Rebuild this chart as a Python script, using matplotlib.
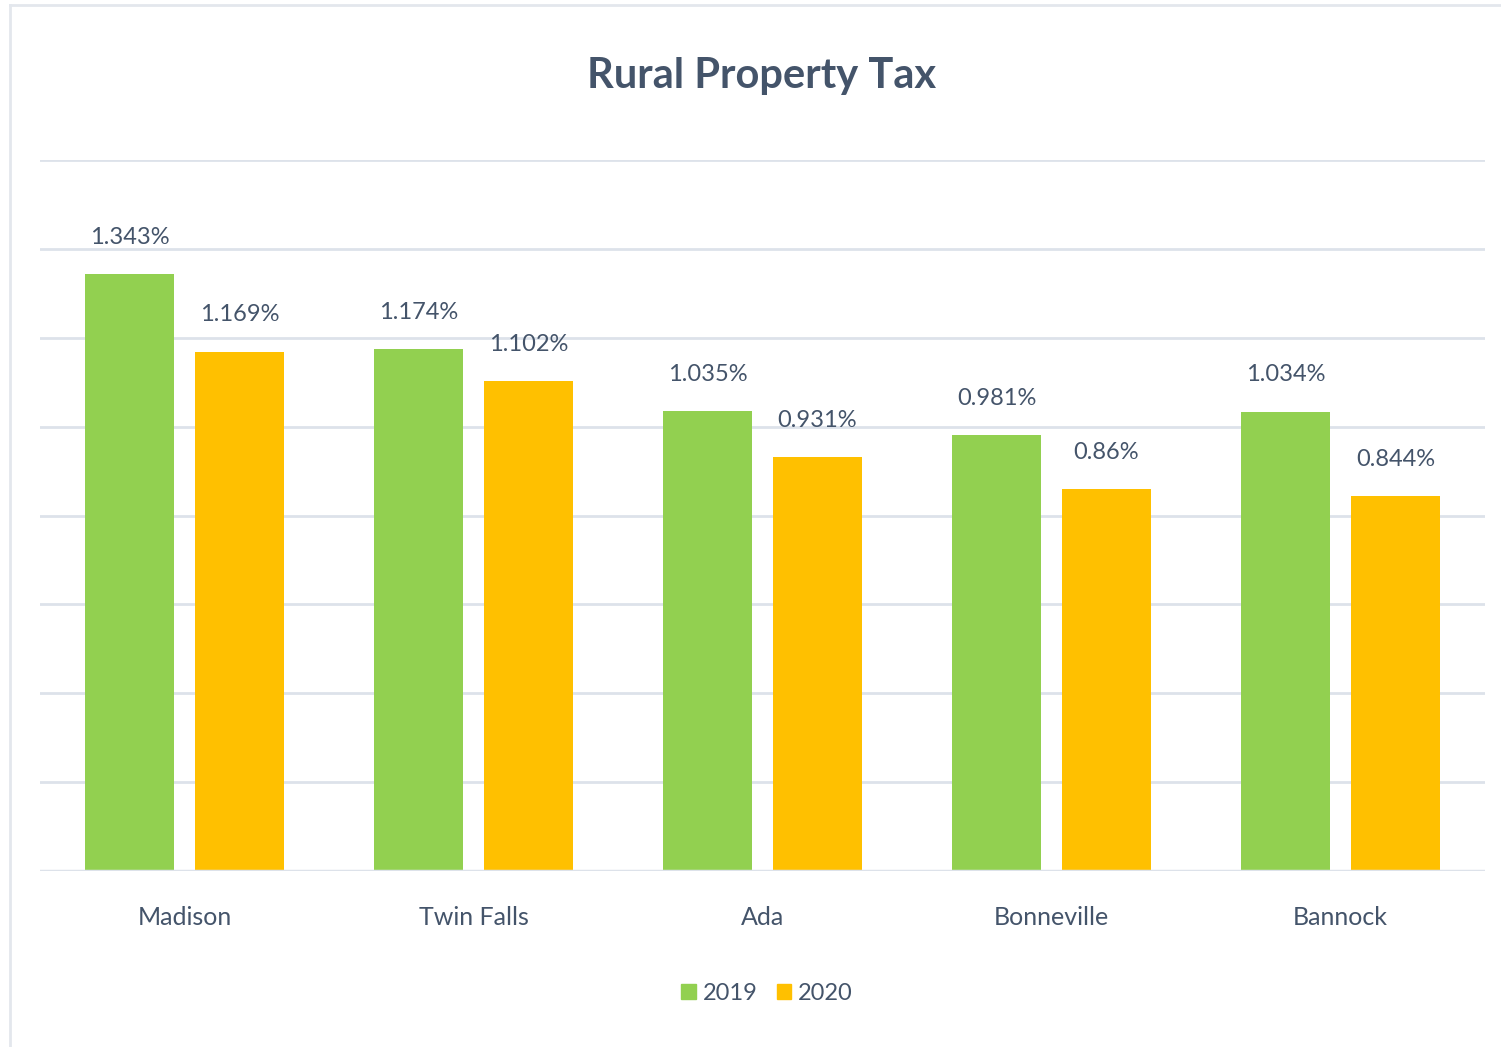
import numpy as np
import matplotlib
matplotlib.use('Agg')
import matplotlib.pyplot as plt
from matplotlib.lines import Line2D
from matplotlib.patches import Patch

counties = ['Madison', 'Twin Falls', 'Ada', 'Bonneville', 'Bannock']
tax_2019 = [1.343, 1.174, 1.035, 0.981, 1.034]
tax_2020 = [1.169, 1.102, 0.931, 0.86, 0.844]
label_2019 = ['1.343%', '1.174%', '1.035%', '0.981%', '1.034%']
label_2020 = ['1.169%', '1.102%', '0.931%', '0.86%', '0.844%']
years = ['2019', '2020']

green = '#92D050'
orange = '#FFC000'
text_col = '#44546A'
grid_col = '#DDE2EA'

plt.rcParams['font.family'] = ['Lato', 'DejaVu Sans']

fig = plt.figure(figsize=(15.01, 10.47), dpi=100)
ax = fig.add_axes([40 / 1501, 1 - 871 / 1047, 1445 / 1501, 711 / 1047])

x = np.arange(len(counties))
w = 0.308
off = 0.19
b1 = ax.bar(x - off, tax_2019, w, color=green, zorder=3)
b2 = ax.bar(x + off, tax_2020, w, color=orange, zorder=3)

# value labels above each bar
for bars, labels in [(b1, label_2019), (b2, label_2020)]:
    for rect, lab in zip(bars, labels):
        ax.annotate(lab, (rect.get_x() + rect.get_width() / 2, rect.get_height()),
                    xytext=(0, 26.5), textcoords='offset points',
                    ha='center', va='center', fontsize=17, color=text_col)

ax.set_xlim(-0.5, len(counties) - 0.5)
ax.set_ylim(0, 1.6)
ax.set_yticks(np.arange(0, 1.61, 0.2))
ax.set_yticklabels([])
ax.tick_params(axis='y', length=0)
ax.tick_params(axis='x', length=0, pad=25, labelsize=18, labelcolor=text_col)
ax.set_xticks(x)
ax.set_xticklabels(counties)
ax.grid(axis='y', color=grid_col, linewidth=2, zorder=0)
for s in ax.spines.values():
    s.set_visible(False)
ax.axhline(0, color=grid_col, linewidth=2.5, zorder=4)

fig.text(762 / 1501, 1 - 76 / 1047, 'Rural Property Tax', ha='center', va='center',
         fontsize=30, fontweight='bold', color=text_col)

handles = [Patch(color=green), Patch(color=orange)]
fig.legend(handles, years, loc='center', bbox_to_anchor=(767 / 1501, 1 - 993 / 1047),
           ncol=2, frameon=False, fontsize=17, handlelength=0.6, handleheight=0.6,
           handletextpad=0.3, columnspacing=0.8, labelcolor=text_col)

# faint outer border (top and left edges)
fig.add_artist(Line2D([10 / 1501, 1], [1 - 5 / 1047, 1 - 5 / 1047], color='#E3E7ED', linewidth=2))
fig.add_artist(Line2D([10 / 1501, 10 / 1501], [0, 1 - 5 / 1047], color='#E3E7ED', linewidth=2))

fig.savefig('out.png', dpi=100)
